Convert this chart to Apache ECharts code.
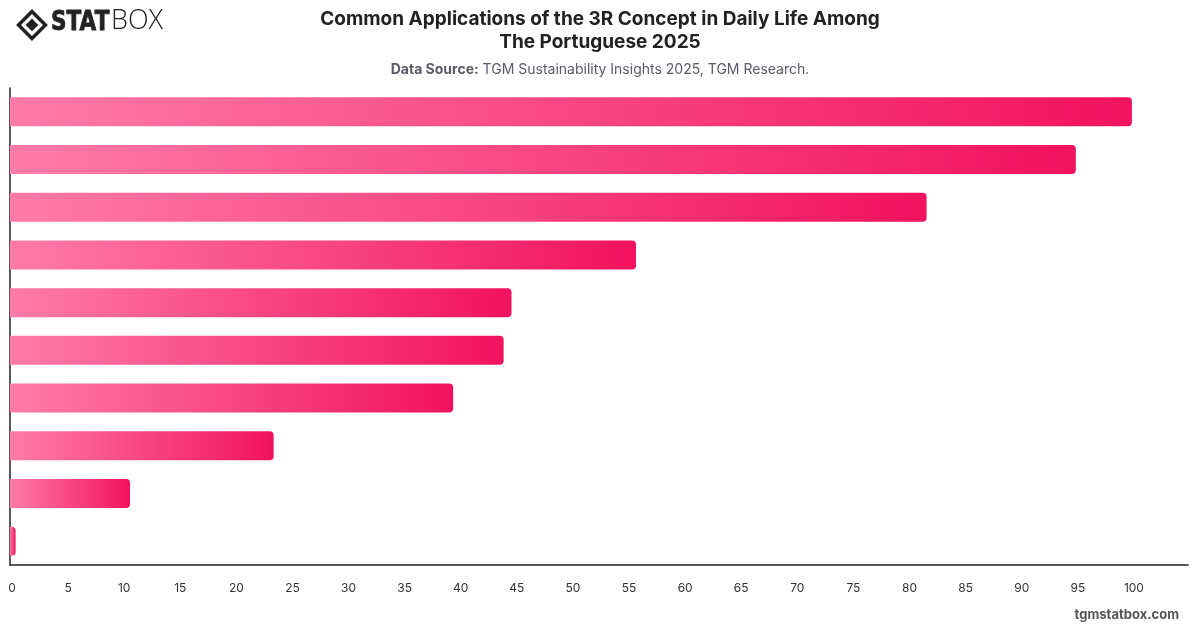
<!DOCTYPE html>
<html>
<head>
<meta charset="utf-8">
<script src="https://cdn.jsdelivr.net/npm/echarts@6/dist/echarts.min.js"></script>
<style>
  html, body { margin: 0; padding: 0; background: #fff; }
  #chart { width: 1200px; height: 628px; }
</style>
</head>
<body>
<div id="chart"></div>
<script>
// categories are not printed on the chart, kept in order top -> bottom
var categories = ["Recycling waste", "Reusing bags", "Reducing plastic use", "Reusing containers",
    "Saving energy", "Reducing food waste", "Repairing items", "Buying second-hand", "Composting", "Other"];
var values = [100, 95, 81.7, 55.8, 44.7, 44, 39.5, 23.5, 10.7, 0.5];

var myChart = echarts.init(document.getElementById('chart'));

var barColor = new echarts.graphic.LinearGradient(0, 0, 1, 0, [
    { offset: 0, color: '#ff7ba8' },
    { offset: 1, color: '#f2125f' }
]);

var option = {
    animation: false,
    title: [
        {
            text: 'Common Applications of the 3R Concept in Daily Life Among\nThe Portuguese 2025',
            left: 'center',
            top: 3,
            textStyle: { fontFamily: 'Inter', fontSize: 19, fontWeight: 'bold', color: '#222', lineHeight: 23 }
        },
        {
            text: '{b|Data Source:} TGM Sustainability Insights 2025, TGM Research.',
            left: 'center',
            top: 58,
            textStyle: {
                fontFamily: 'Inter', fontSize: 14, fontWeight: 'normal', color: '#5a5a66',
                rich: { b: { fontFamily: 'Inter', fontSize: 14, fontWeight: 'bold', color: '#5a5a66' } }
            }
        }
    ],
    graphic: [
        {
            type: 'group', left: 15, top: 8,
            children: [
                { type: 'rect', shape: { x: 4, y: 4, width: 19, height: 19 }, rotation: Math.PI / 4, origin: [13.5, 13.5],
                  style: { fill: 'none', stroke: '#222', lineWidth: 3.5 } },
                { type: 'rect', shape: { x: 9, y: 9, width: 9, height: 9 }, rotation: Math.PI / 4, origin: [13.5, 13.5],
                  style: { fill: '#222' } }
            ]
        },
        {
            type: 'text', x: 51, y: 9, scaleX: 0.8,
            style: { text: 'STAT', font: '900 27px "DejaVu Sans"', fill: '#222', stroke: '#222', lineWidth: 0.8 }
        },
        {
            type: 'text', x: 111, y: 8,
            style: { text: 'BOX', font: '300 27px "Open Sans"', fill: '#222' }
        },
        {
            type: 'text', right: 21, top: 609,
            style: { text: 'tgmstatbox.com', font: 'bold 13px Inter', fill: '#555' }
        }
    ],
    grid: { left: 10, right: 12, top: 88, bottom: 63, containLabel: false },
    xAxis: {
        type: 'value',
        min: 0,
        max: 105,
        interval: 5,
        splitLine: { show: false },
        axisLine: { show: true, lineStyle: { color: '#222', width: 1.5 } },
        axisTick: { show: false },
        axisLabel: { showMaxLabel: false, margin: 17, fontFamily: 'Inter', fontSize: 12, color: '#333', padding: [0, 0, 0, 4] }
    },
    yAxis: {
        type: 'category',
        inverse: true,
        data: categories,
        axisLine: { show: true, lineStyle: { color: '#222', width: 1.5 } },
        axisTick: { show: false },
        axisLabel: { show: false }
    },
    series: [{
        type: 'bar',
        data: values,
        barWidth: 29,
        itemStyle: { color: barColor, borderRadius: [0, 4, 4, 0] }
    }]
};

myChart.setOption(option);
</script>
</body>
</html>
